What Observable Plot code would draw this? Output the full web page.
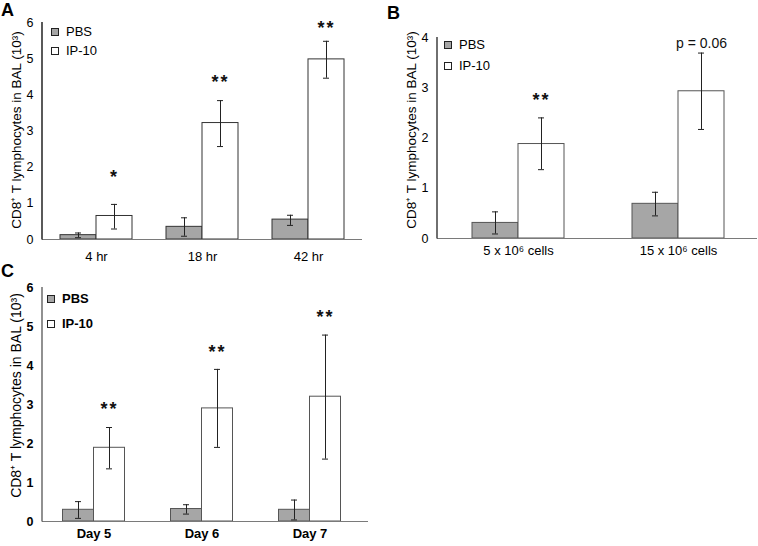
<!DOCTYPE html>
<html><head><meta charset="utf-8">
<script src="https://cdn.jsdelivr.net/npm/d3@7"></script>
<script src="https://cdn.jsdelivr.net/npm/@observablehq/plot@0.6"></script>
<style>
body{margin:0;background:#fff;font-family:"Liberation Sans",Arial,sans-serif;}
#wrap{position:relative;width:758px;height:546px;overflow:hidden;background:#fff}
.panel{position:absolute}
.plab{position:absolute;font-weight:bold;font-size:18px;line-height:1}
.leg{position:absolute;font-size:13px;display:flex;align-items:center;line-height:1;color:#000}
.sw{width:6px;height:6px;border:1px solid #222;margin-right:7px}
</style></head>
<body><div id="wrap"></div>
<script>
// ---- Panel A ----
const groupsA = ["4 hr", "18 hr", "42 hr"];
const pbsA    = [0.12, 0.35, 0.55];
const pbsA_lo = [0.05, 0.09, 0.39];
const pbsA_hi = [0.18, 0.60, 0.67];
const ipA     = [0.65, 3.22, 4.98];
const ipA_lo  = [0.29, 2.57, 4.46];
const ipA_hi  = [0.97, 3.84, 5.48];
const sigA    = ["*", "**", "**"];
const sigA_y  = [1.72, 4.35, 5.83];

// ---- Panel B ----
const groupsB = ["5 x 10\u2076 cells", "15 x 10\u2076 cells"];
const pbsB    = [0.31, 0.69];
const pbsB_lo = [0.09, 0.45];
const pbsB_hi = [0.53, 0.92];
const ipB     = [1.88, 2.93];
const ipB_lo  = [1.37, 2.17];
const ipB_hi  = [2.40, 3.69];
const sigB    = ["**", "p = 0.06"];
const sigB_y  = [2.75, 3.89];

// ---- Panel C ----
const groupsC = ["Day 5", "Day 6", "Day 7"];
const pbsC    = [0.30, 0.32, 0.30];
const pbsC_lo = [0.08, 0.19, 0.04];
const pbsC_hi = [0.51, 0.43, 0.55];
const ipC     = [1.89, 2.90, 3.20];
const ipC_lo  = [1.35, 1.90, 1.60];
const ipC_hi  = [2.41, 3.90, 4.78];
const sigC    = ["**", "**", "**"];
const sigC_y  = [2.88, 4.33, 5.23];

const yTitle = "CD8\u207A T lymphocytes in BAL (10\u00B3)";
const seriesNames = ["PBS", "IP-10"];

function makePanel(o) {
  const rows = (vals, lo, hi) => o.groups.map((g, i) => ({g, v: vals[i], lo: lo[i], hi: hi[i]}));
  const P = rows(o.pbs, o.pbsLo, o.pbsHi);
  const I = rows(o.ip, o.ipLo, o.ipHi);
  const S = o.groups.map((g, i) => ({g, t: o.sig[i], y: o.sigY[i]}));
  const stars = S.filter(d => /^\*+$/.test(d.t));
  const other = S.filter(d => !/^\*+$/.test(d.t));
  const n = o.groups.length;
  const step = (o.range[1] - o.range[0]) / n;
  const bw = 2 * o.half;
  const pi = 1 - bw / step;
  const cap = 3;
  const svg = Plot.plot({
    width: o.width, height: o.height,
    marginLeft: o.ml, marginRight: o.mr, marginTop: o.mt, marginBottom: o.mb,
    style: {fontFamily: '"Liberation Sans", Arial, sans-serif', fontSize: "12px", color: "#000", background: "#fff", overflow: "visible"},
    x: {domain: o.groups, range: o.range, paddingInner: pi, paddingOuter: pi / 2, tickSize: 0, tickPadding: o.xpad, label: null},
    y: {domain: [0, o.ymax], ticks: d3.range(0, o.ymax + 1), tickFormat: d3.format("d"), tickSize: 0, tickPadding: 9,
        label: yTitle, labelAnchor: "center", labelOffset: o.lo},
    marks: [
      Plot.barY(P, {x: "g", y: "v", dx: -o.half, fill: "#a6a6a6", stroke: o.barStroke, strokeWidth: 1}),
      Plot.barY(I, {x: "g", y: "v", dx: o.half, fill: "#ffffff", stroke: o.barStroke, strokeWidth: 1}),
      Plot.ruleY([0], {stroke: "#7a7a7a", strokeWidth: 1.2}),
      Plot.ruleX(P, {x: "g", y1: "lo", y2: "hi", dx: -o.half, stroke: "#222"}),
      Plot.ruleX(I, {x: "g", y1: "lo", y2: "hi", dx: o.half, stroke: "#222"}),
      Plot.tickY(P, {x: "g", y: "lo", dx: -o.half, insetLeft: o.half - cap, insetRight: o.half - cap, stroke: "#222"}),
      Plot.tickY(P, {x: "g", y: "hi", dx: -o.half, insetLeft: o.half - cap, insetRight: o.half - cap, stroke: "#222"}),
      Plot.tickY(I, {x: "g", y: "lo", dx: o.half, insetLeft: o.half - cap, insetRight: o.half - cap, stroke: "#222"}),
      Plot.tickY(I, {x: "g", y: "hi", dx: o.half, insetLeft: o.half - cap, insetRight: o.half - cap, stroke: "#222"}),
      Plot.text(stars, {x: "g", y: "y", text: "t", dx: o.half, fontSize: 18, fontWeight: "bold", fill: "#111"}),
      Plot.text(other, {x: "g", y: "y", text: "t", dx: o.half, fontSize: 14, fill: "#111"})
    ]
  });
  const s = d3.select(svg);
  // star spacing
  s.selectAll("text").filter(function() { return /^\*+$/.test(this.textContent); }).attr("letter-spacing", "2px");
  // axis text sizing / weight
  s.selectAll("text").each(function() {
    if (!this.closest('[aria-label*="axis"]')) return;
    const el = d3.select(this);
    if (/lymphocytes/.test(this.textContent)) {
      this.textContent = yTitle;
      el.attr("font-size", o.titleSize).attr("font-weight", "normal");
      const tr = el.attr("transform") || "";
      el.attr("transform", `translate(0,${o.titleShift}) ${tr}`);
    } else {
      const isX = this.closest('[aria-label*="x-axis"]');
      el.attr("font-size", isX ? 13 : 12.5).attr("font-weight", o.bold ? "bold" : "normal");
    }
  });
  // y-axis line along the left edge of the frame, spanning the y scale's range
  const yr = svg.scale("y").range;
  s.append("line")
    .attr("x1", o.ml).attr("x2", o.ml)
    .attr("y1", Math.min(...yr)).attr("y2", Math.max(...yr) + 0.5)
    .attr("stroke", o.axisStroke).attr("stroke-width", 1.3);
  return svg;
}

const wrap = document.getElementById("wrap");
function place(svg, left, top) {
  const d = document.createElement("div");
  d.className = "panel";
  d.style.left = left + "px"; d.style.top = top + "px";
  d.appendChild(svg);
  wrap.appendChild(d);
}
function label(txt, left, top) {
  const d = document.createElement("div");
  d.className = "plab"; d.textContent = txt;
  d.style.left = left + "px"; d.style.top = top + "px";
  wrap.appendChild(d);
}
function legend(left, top, gap, bold) {
  seriesNames.forEach((name, i) => {
    const d = document.createElement("div");
    d.className = "leg";
    d.style.left = left + "px"; d.style.top = (top + i * gap) + "px";
    if (bold) d.style.fontWeight = "bold";
    const sw = document.createElement("span");
    sw.className = "sw";
    sw.style.background = i === 0 ? "#a6a6a6" : "#fff";
    d.appendChild(sw);
    d.appendChild(document.createTextNode(name));
    wrap.appendChild(d);
  });
}

place(makePanel({
  groups: groupsA, pbs: pbsA, pbsLo: pbsA_lo, pbsHi: pbsA_hi, ip: ipA, ipLo: ipA_lo, ipHi: ipA_hi,
  sig: sigA, sigY: sigA_y, ymax: 6, width: 375, height: 268, ml: 42, mr: 13, mt: 22, mb: 29,
  range: [41.7, 361.8], half: 18, xpad: 12, lo: 31, titleSize: 13.5, titleShift: -1, barStroke: "#333", axisStroke: "#000", bold: false
}), 0, 0);

place(makePanel({
  groups: groupsB, pbs: pbsB, pbsLo: pbsB_lo, pbsHi: pbsB_hi, ip: ipB, ipLo: ipB_lo, ipHi: ipB_hi,
  sig: sigB, sigY: sigB_y, ymax: 4, width: 378, height: 268, ml: 57, mr: 1, mt: 37, mb: 30,
  range: [57.5, 377.5], half: 23, xpad: 7, lo: 31, titleSize: 13.5, titleShift: -8, barStroke: "#555", axisStroke: "#222", bold: false
}), 380, 0);

place(makePanel({
  groups: groupsC, pbs: pbsC, pbsLo: pbsC_lo, pbsHi: pbsC_hi, ip: ipC, ipLo: ipC_lo, ipHi: ipC_hi,
  sig: sigC, sigY: sigC_y, ymax: 6, width: 375, height: 276, ml: 42, mr: 7, mt: 17, mb: 25,
  range: [40, 364], half: 15.5, xpad: 7, lo: 31, titleSize: 14, titleShift: -9, barStroke: "#555", axisStroke: "#555", bold: true
}), 0, 270);

label("A", 1, 1);
label("B", 387, 4);
label("C", 1, 262);
legend(51, 25, 19, false);
legend(444, 38, 21, false);
legend(47, 292, 25, true);
</script>
</body></html>
